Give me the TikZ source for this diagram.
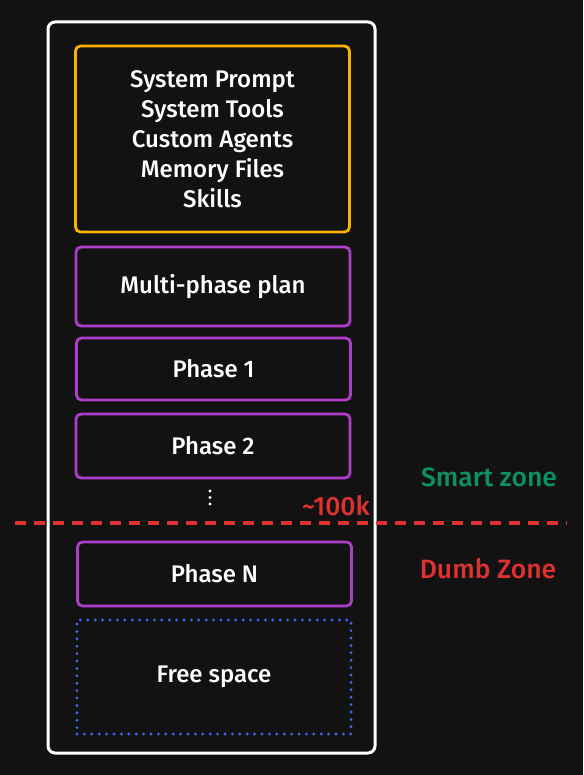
\documentclass[tikz,border=0pt]{standalone}
\usepackage{fontspec}
\setmainfont{Fira Sans}[BoldFont={Fira Sans Medium}]
\usetikzlibrary{positioning}

\definecolor{bgdark}{HTML}{121212}
\definecolor{ctxyellow}{HTML}{FAB005}
\definecolor{phasepurple}{HTML}{AE3EC9}
\definecolor{freeblue}{HTML}{4263EB}
\definecolor{smartgreen}{HTML}{099268}
\definecolor{dumbred}{HTML}{E03131}

\begin{document}
\begin{tikzpicture}[x=1pt,y=-1pt]
        \tikzstyle{every node}=[text=white,font=\fontsize{24}{30}\selectfont\bfseries]
        \tikzstyle{block}=[rectangle,rounded corners=5pt,line width=2.8pt,minimum width=274pt,align=center]
        \tikzstyle{phase}=[block,draw=phasepurple,minimum height=63pt]
        \tikzstyle{zone}=[font=\fontsize{26.5}{30}\selectfont\bfseries]
        \fill[bgdark] (0,0) rectangle (583,775);
        \useasboundingbox (0,0) rectangle (583,775);
        % window
        \node[block,draw=white,line width=3pt,rounded corners=7pt,minimum width=327pt,minimum height=731pt] (window) at (211.5,387.5) {};
        % fixed context
        \node[block,draw=ctxyellow,minimum height=186pt] (context) at (212.5,139)
            {System Prompt\\System Tools\\Custom Agents\\Memory Files\\Skills};
        \node[phase,minimum height=79pt] (plan) at (213,286.5) {Multi-phase plan};
        \node[phase,minimum height=62pt] (phaseone) at (213.5,369) {Phase 1};
        \node[phase,minimum height=64pt] (phasetwo) at (213,446) {Phase 2};
        \foreach \y in {491,497.5,504}
            \fill[white] (210,\y) circle (1.7pt);
        \node[phase,minimum height=64pt] (phasen) at (214.5,574) {Phase N};
        \node[block,draw=freeblue,rounded corners=0pt,line width=3.2pt,line cap=round,dash pattern=on 0pt off 7.4pt,minimum height=114pt] (free) at (214,677) {Free space};
        % limit
        \coordinate (cutleft) at (15,523);
        \coordinate (cutright) at (567,523);
        \draw[dumbred,line width=3.2pt,dash pattern=on 11pt off 8pt] (cutleft) -- (cutright);
        \node[zone,text=dumbred,anchor=south east,inner sep=1pt] (limit) at (371,517) {\textasciitilde100k};
        \node[zone,text=smartgreen] (smart) at (489,477) {Smart zone};
        \node[zone,text=dumbred] (dumb) at (488,569) {Dumb Zone};
\end{tikzpicture}
\end{document}
